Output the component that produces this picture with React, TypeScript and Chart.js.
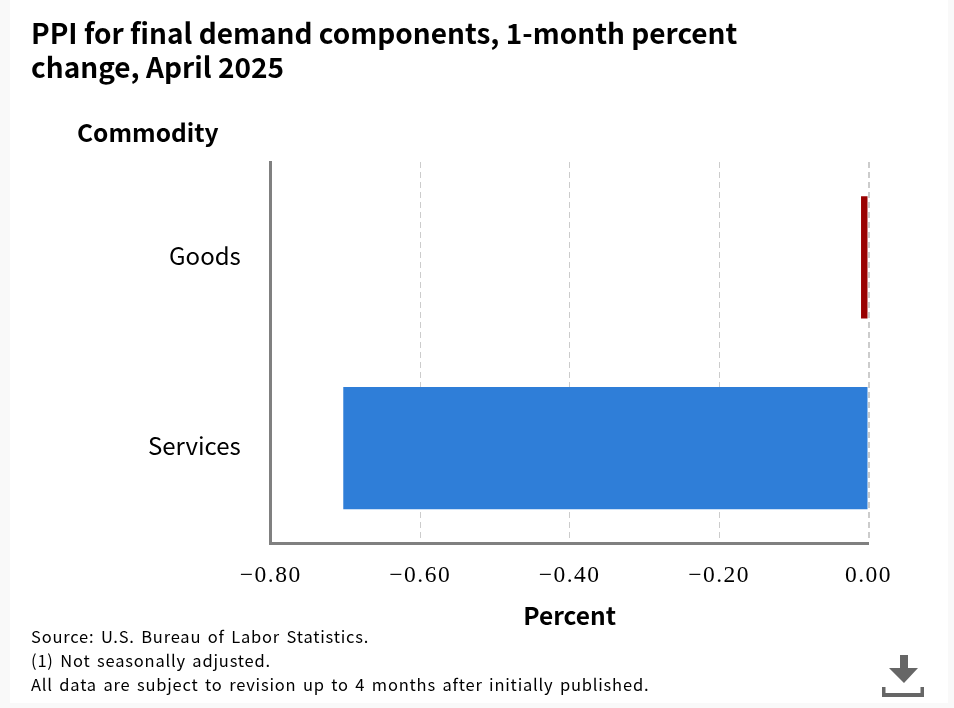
import React, { useEffect, useRef } from 'react';
import { Chart, registerables } from 'chart.js';

Chart.register(...registerables);

const categories = ['Goods', 'Services'];
const values = [-0.01, -0.703];
const barColors = ['#990000', '#2f7ed8'];
const titleLines = ['PPI for final demand components, 1-month percent', 'change, April 2025'];
const footnotes = [
  'Source: U.S. Bureau of Labor Statistics.',
  '(1) Not seasonally adjusted.',
  'All data are subject to revision up to 4 months after initially published.',
];

const HEAD_FONT = '"Noto Sans CJK SC", "Noto Sans", sans-serif';

// x tick labels sit in a layer above the bars, so spacing can be set just for them
const tickSpacing = {
  id: 'tickSpacing',
  afterDatasetsDraw: (chart: any) => { chart.ctx.letterSpacing = '1.5px'; },
  afterDraw: (chart: any) => { chart.ctx.letterSpacing = '0px'; },
};

export default function App() {
  const canvasRef = useRef<HTMLCanvasElement | null>(null);

  useEffect(() => {
    const canvas = canvasRef.current;
    if (!canvas) return;

    const chart = new Chart(canvas, {
      type: 'bar',
      plugins: [tickSpacing],
      data: {
        labels: categories,
        datasets: [{
          data: values,
          backgroundColor: barColors,
          categoryPercentage: 0.64,
          barPercentage: 1,
        }],
      },
      options: {
        indexAxis: 'y',
        responsive: false,
        animation: false,
        layout: { padding: { top: 162, right: 85.5, bottom: 0, left: 0 } },
        plugins: {
          legend: { display: false },
          tooltip: { enabled: false },
        },
        scales: {
          x: {
            min: -0.8,
            max: 0,
            afterFit: (scale: any) => { scale.height = 164.5; },
            border: { display: true, color: '#808080', width: 3, dash: [6, 4] },
            grid: {
              color: '#cccccc',
              lineWidth: (ctx: any) => (ctx.tick && ctx.tick.value === 0 ? 2 : 1),
              drawTicks: false,
            },
            ticks: {
              z: 1,
              stepSize: 0.2,
              padding: 18,
              maxRotation: 0,
              color: '#000000',
              font: { family: '"Liberation Serif"', size: 23.5 },
              callback: (v: any) => (Number(v) === 0 ? '0.00' : '\u2212' + Math.abs(Number(v)).toFixed(2)),
            },
            title: {
              display: true,
              text: 'Percent',
              color: '#000000',
              padding: { top: 0, bottom: 78 },
              font: { family: HEAD_FONT, size: 24.5, weight: 'bold' },
            },
          },
          y: {
            afterFit: (scale: any) => { scale.width = 270.8; },
            border: { display: true, color: '#808080', width: 3 },
            grid: { display: false, drawTicks: false },
            ticks: {
              padding: 30,
              labelOffset: -2,
              color: '#000000',
              font: { family: '"Noto Sans CJK SC"', size: 24 },
            },
          },
        },
      },
    });

    return () => chart.destroy();
  }, []);

  return (
    <div style={{ position: 'absolute', left: 0, top: 0, width: 954, height: 708, background: '#f9f9f9', overflow: 'hidden' }}>
      <div style={{ position: 'absolute', left: 10, top: 0, width: 938, height: 703, background: '#ffffff' }} />
      <canvas ref={canvasRef} width={954} height={708} style={{ position: 'absolute', left: 0, top: 0, width: 954, height: 708 }} />
      <div style={{ position: 'absolute', left: 31, top: 15, fontFamily: HEAD_FONT, fontWeight: 700, fontSize: 28, lineHeight: '34px', color: '#000', whiteSpace: 'nowrap' }}>
        {titleLines.map(line => <div key={line}>{line}</div>)}
      </div>
      <div style={{ position: 'absolute', left: 77, top: 114, fontFamily: HEAD_FONT, fontWeight: 700, fontSize: 24.5, lineHeight: '36px', color: '#000', whiteSpace: 'nowrap' }}>
        Commodity
      </div>
      <div style={{ position: 'absolute', left: 31, top: 624, fontFamily: HEAD_FONT, fontSize: 16.5, letterSpacing: 0.8, wordSpacing: 2, lineHeight: '24px', color: '#000', whiteSpace: 'nowrap' }}>
        {footnotes.map(line => <div key={line}>{line}</div>)}
      </div>
      <svg style={{ position: 'absolute', left: 880, top: 652 }} width={46} height={46} viewBox="0 0 46 46">
        <path d="M20 3h8v13h10L24 31 9 16h11z" fill="#666666" />
        <path d="M2 35h3.5v6h35v-6H44v10H2z" fill="#666666" />
      </svg>
    </div>
  );
}
